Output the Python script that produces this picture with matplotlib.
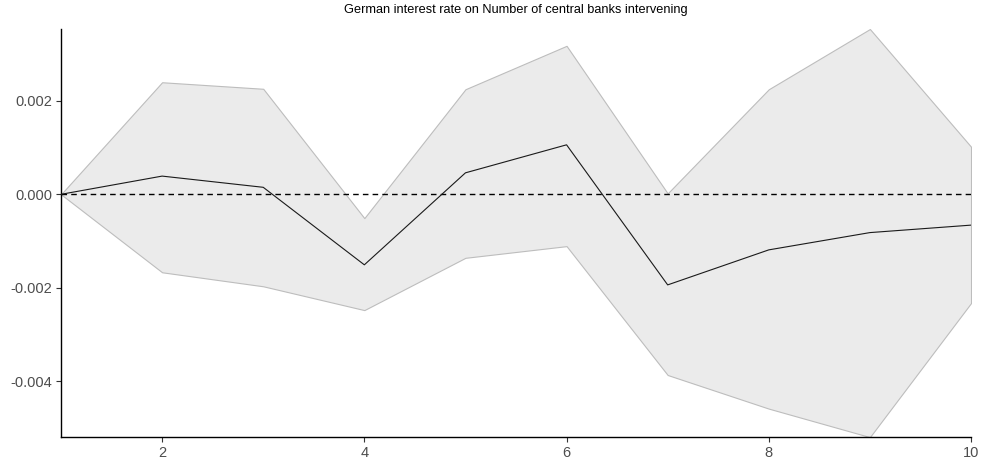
import matplotlib
matplotlib.use("Agg")
import matplotlib.pyplot as plt

plt.rcParams['font.family'] = ['Liberation Sans', 'DejaVu Sans']

# impulse response horizon
horizon = [1, 2, 3, 4, 5, 6, 7, 8, 9, 10]
# point estimate of the response
irf = [0.0, 0.00039, 0.00015, -0.00151, 0.00046, 0.00106, -0.00194, -0.00119, -0.00082, -0.00066]
# confidence band bounds
upper = [0.0, 0.00240, 0.00226, -0.00051, 0.00225, 0.00318, 0.00002, 0.00225, 0.00354, 0.00102]
lower = [0.0, -0.00167, -0.00197, -0.00248, -0.00136, -0.00111, -0.00387, -0.00459, -0.00520, -0.00233]

x_ticks = [2, 4, 6, 8, 10]
y_ticks = [-0.004, -0.002, 0.000, 0.002]
y_tick_labels = ["-0.004", "-0.002", "0.000", "0.002"]
title = "German interest rate on Number of central banks intervening"

fig = plt.figure(figsize=(9.84, 4.68), dpi=100)
ax = fig.add_axes([0.062, 0.066, 0.9248, 0.872])

ax.fill_between(horizon, lower, upper, facecolor="#EBEBEB", edgecolor="#BDBDBD",
                linewidth=0.8, zorder=1)
ax.plot(horizon, irf, color="#1a1a1a", linewidth=0.8, zorder=3)
ax.axhline(0, color="black", linewidth=1.0, linestyle=(0, (4, 3)), zorder=2)

ax.set_xlim(horizon[0], horizon[-1])
ax.set_ylim(min(lower), max(upper))
ax.set_xticks(x_ticks)
ax.set_yticks(y_ticks)
ax.set_yticklabels(y_tick_labels)

for side in ("top", "right"):
    ax.spines[side].set_visible(False)
for side in ("left", "bottom"):
    ax.spines[side].set_color("black")
    ax.spines[side].set_linewidth(1.0)

ax.tick_params(axis="both", which="major", length=3.5, width=0.8, color="#333333",
               labelcolor="#4D4D4D", labelsize=10.5, pad=3)

# title centred over the panel
ax.text(0.5, 1.0 + 19.0 / 408, title, transform=ax.transAxes,
        ha="center", va="center", fontsize=9.2, color="black")

fig.savefig("out.png", dpi=100, facecolor="white")
